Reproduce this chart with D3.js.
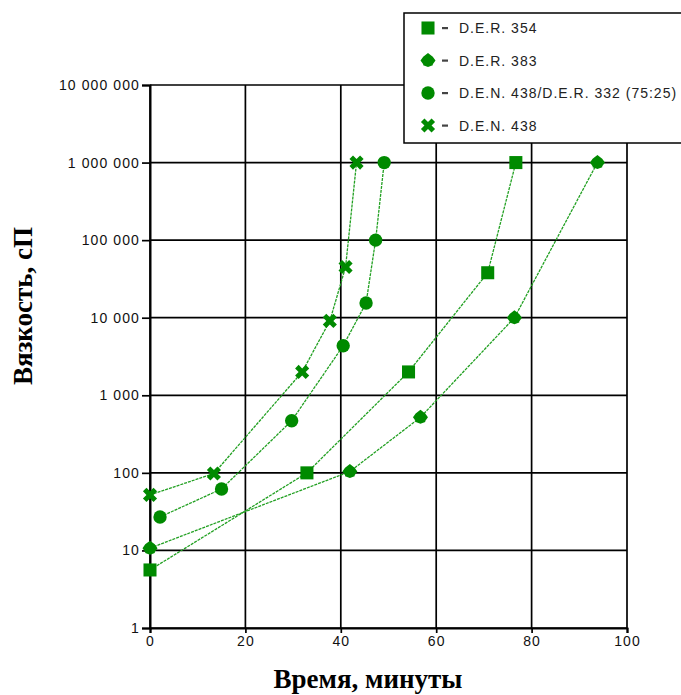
<!DOCTYPE html>
<html>
<head>
<meta charset="utf-8">
<script src="https://cdn.jsdelivr.net/npm/d3@7"></script>
<style>
  html, body { margin: 0; padding: 0; background: #fff; overflow: hidden; }
  svg { display: block; }
</style>
</head>
<body>
<svg id="chart" width="681" height="695"></svg>
<script>
// Viscosity growth over time for four epoxy systems
const seriesNames = ["D.E.R. 354", "D.E.R. 383", "D.E.N. 438/D.E.R. 332 (75:25)", "D.E.N. 438"];
const der354Time = [0, 32.9, 54.2, 70.8, 76.7];
const der354Visc = [5.6, 100, 2000, 38000, 1000000];
const der383Time = [0, 41.9, 56.7, 76.4, 93.8];
const der383Visc = [10.7, 104, 520, 10000, 1000000];
const blendTime = [2.1, 15.0, 29.7, 40.5, 45.3, 47.3, 49.1];
const blendVisc = [27, 62, 470, 4350, 15500, 100000, 1000000];
const den438Time = [0, 13.4, 31.9, 37.7, 41.0, 43.3];
const den438Visc = [52, 98, 2000, 9100, 45000, 1000000];
const xTicks = [0, 20, 40, 60, 80, 100];
const yTicks = [1, 10, 100, 1000, 10000, 100000, 1000000, 10000000];

const series = [
  { name: seriesNames[0], t: der354Time, v: der354Visc, shape: "square" },
  { name: seriesNames[1], t: der383Time, v: der383Visc, shape: "star" },
  { name: seriesNames[2], t: blendTime, v: blendVisc, shape: "circle" },
  { name: seriesNames[3], t: den438Time, v: den438Visc, shape: "x" }
];

const svg = d3.select("#chart");
const plotLeft = 150, plotRight = 627, plotTop = 85, plotBottom = 628;
const x = d3.scaleLinear().domain([0, 100]).range([plotLeft, plotRight]);
const y = d3.scaleLog().domain([1, 1e7]).range([plotBottom, plotTop]);

const green = "#008a00";
const lineGreen = "#22a022";
const sans = "Liberation Sans, Arial, sans-serif";
const serif = "Liberation Serif, Times New Roman, serif";
// thousands grouped with a non-breaking space
const fmt = d3.formatLocale({ decimal: ".", thousands: "\u00a0", grouping: [3], currency: ["", ""] }).format(",d");

// grid
const grid = svg.append("g").attr("stroke", "#000").attr("stroke-width", 1.7);
xTicks.forEach(t => grid.append("line")
  .attr("x1", x(t)).attr("x2", x(t)).attr("y1", plotTop).attr("y2", plotBottom));
yTicks.forEach(t => grid.append("line")
  .attr("x1", plotLeft).attr("x2", plotRight).attr("y1", y(t)).attr("y2", y(t)));

// axes
const yAxis = svg.append("g").attr("transform", `translate(${plotLeft},0)`)
  .call(d3.axisLeft(y).tickValues(yTicks).tickFormat(fmt).tickSize(8).tickPadding(2));
const xAxis = svg.append("g").attr("transform", `translate(0,${plotBottom})`)
  .call(d3.axisBottom(x).tickValues(xTicks).tickFormat(d3.format("d")).tickSize(5).tickPadding(3));
[yAxis, xAxis].forEach(a => {
  a.select(".domain").attr("stroke", "#000").attr("stroke-width", 2);
  a.selectAll(".tick line").attr("stroke", "#000").attr("stroke-width", 1.7);
  a.selectAll("text").attr("fill", "#111")
    .style("font-family", sans).style("font-size", "14px").style("letter-spacing", "1.1px");
});

// marker shapes
function markerPath(shape) {
  switch (shape) {
    case "square": return d3.symbol(d3.symbolSquare, 170)();
    case "circle": return d3.symbol(d3.symbolCircle, 140)();
    case "x": return d3.symbol(d3.symbolCross, 125)();
    case "star": {
      // diamond with a squared waist
      const r = 7.5, w = 4.8;
      return `M0,${-r}L${w},${-w + 1}L${r},0L${w},${w - 1}L${w},${w}L0,${r - 1}` +
             `L${-w},${w}L${-w},${w - 1}L${-r},0L${-w},${-w + 1}Z`;
    }
  }
}
function markerTransform(shape) { return shape === "x" ? "rotate(45)" : ""; }

// lines and points
const line = d3.line().x(d => x(d[0])).y(d => y(d[1]));
series.forEach(s => {
  const pts = s.t.map((t, i) => [t, s.v[i]]);
  svg.append("path").datum(pts).attr("d", line)
    .attr("fill", "none").attr("stroke", lineGreen).attr("stroke-width", 1.3)
    .attr("stroke-dasharray", "3,1");
  svg.append("g").selectAll("path").data(pts).join("path")
    .attr("transform", d => `translate(${x(d[0])},${y(d[1])}) ${markerTransform(s.shape)}`)
    .attr("d", markerPath(s.shape)).attr("fill", green);
});

// legend
const lg = svg.append("g");
lg.append("rect").attr("x", 404).attr("y", 13).attr("width", 300).attr("height", 130)
  .attr("fill", "#fff").attr("stroke", "#000").attr("stroke-width", 1.5);
series.forEach((s, i) => {
  const cy = 28 + i * 32.5;
  lg.append("path").attr("d", markerPath(s.shape))
    .attr("transform", `translate(428,${cy}) ${markerTransform(s.shape)}`).attr("fill", green);
  lg.append("rect").attr("x", 442).attr("y", cy - 1).attr("width", 6).attr("height", 2.2).attr("fill", "#444");
  lg.append("text").attr("x", 459).attr("y", cy + 5).text(s.name)
    .style("font-family", sans).style("font-size", "14px")
    .style("letter-spacing", "1px").attr("fill", "#222");
});

// axis titles
svg.append("text").attr("x", 368).attr("y", 688).attr("text-anchor", "middle")
  .style("font-family", serif).style("font-weight", "bold")
  .style("font-size", "27px").text("Время, минуты");
svg.append("text").attr("transform", "translate(32,306) rotate(-90)").attr("text-anchor", "middle")
  .style("font-family", serif).style("font-weight", "bold")
  .style("font-size", "27px").text("Вязкость, сП");
</script>
</body>
</html>
